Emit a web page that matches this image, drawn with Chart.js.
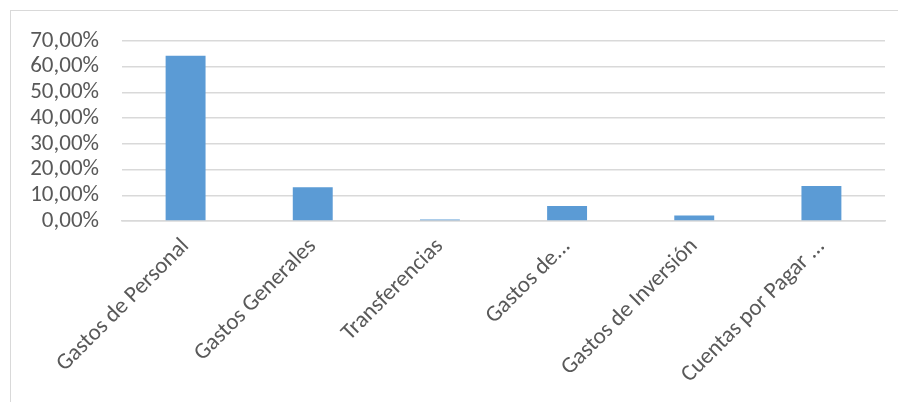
<!DOCTYPE html>
<html>
<head>
<meta charset="utf-8">
<script src="https://cdn.jsdelivr.net/npm/chart.js@4/dist/chart.umd.min.js"></script>
<style>
  html, body { margin: 0; padding: 0; background: #fff; }
  #wrap { position: relative; width: 898px; height: 402px; overflow: hidden; }
  #frame { position: absolute; left: 10px; top: 10px; width: 900px; height: 400px; border: 1px solid #d9d9d9; }
  canvas { position: absolute; left: 0; top: 0; }
</style>
</head>
<body>
<div id="wrap">
  <div id="frame"></div>
  <canvas id="GastosChart" width="898" height="402"></canvas>
</div>
<script>
var Categorias = ['Gastos de Personal', 'Gastos Generales', 'Transferencias', 'Gastos de...', 'Gastos de Inversión', 'Cuentas por Pagar ...'];
var Porcentajes = [64.3, 13.1, 0.6, 5.8, 2.1, 13.6];
var TicksY = [0, 10, 20, 30, 40, 50, 60, 70];

var fuente = "Carlito, 'Open Sans', sans-serif";

var ctx = document.getElementById('GastosChart').getContext('2d');
new Chart(ctx, {
    type: 'bar',
    data: {
        labels: Categorias,
        datasets: [
            {
                label: 'Porcentaje',
                data: Porcentajes,
                backgroundColor: '#5b9bd5',
                borderWidth: 0,
                categoryPercentage: 1,
                barPercentage: 0.314
            }
        ]
    },
    options: {
        responsive: false,
        animation: false,
        layout: {
            padding: { top: 41, right: 13, left: 0, bottom: 0 }
        },
        plugins: {
            legend: { display: false },
            tooltip: { enabled: false }
        },
        scales: {
            x: {
                grid: { display: false, drawTicks: false },
                border: { display: true, color: '#d9d9d9', width: 1.5 },
                ticks: {
                    color: '#595959',
                    font: { family: fuente, size: 23 },
                    minRotation: 45,
                    maxRotation: 45,
                    padding: 12,
                    autoSkip: false
                },
                afterFit: function (scale) { scale.height = 181; }
            },
            y: {
                min: 0,
                max: 70,
                afterBuildTicks: function (scale) {
                    scale.ticks = TicksY.map(function (v) { return { value: v }; });
                },
                grid: { color: '#d9d9d9', lineWidth: 1.5, drawTicks: false },
                border: { display: false },
                ticks: {
                    color: '#595959',
                    font: { family: fuente, size: 23 },
                    padding: 23,
                    autoSkip: false,
                    callback: function (v) { return v.toFixed(2).replace('.', ',') + '%'; }
                },
                afterFit: function (scale) { scale.width = 122; }
            }
        }
    }
});
</script>
</body>
</html>
